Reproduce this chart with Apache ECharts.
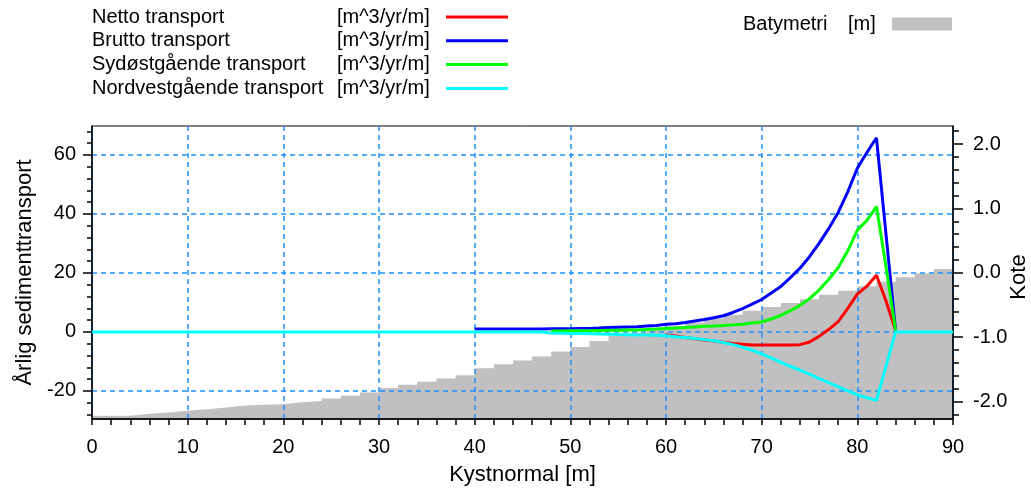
<!DOCTYPE html>
<html><head><meta charset="utf-8">
<script src="https://cdn.jsdelivr.net/npm/echarts@6/dist/echarts.min.js"></script>
<style>html,body{margin:0;padding:0;background:#fff}#c{width:1031px;height:491px}</style>
</head><body><div id="c"></div>
<script>
// x positions (Kystnormal [m]) for transport series
const kystnormal = [0, 40,41,42,43,44,45,46,47,48,49, 50,51,52,53,54,55,56,57,58,59,
  60,61,62,63,64,65,66,67,68,69, 70,71,72,73,74,75,76,77,78,79, 80,81,82,83,84,85,86,87,88,89,90];
const netto = [null, null,null,null,null,null,null,null,null,null,null, null,null,null,null,null,null,null,null,null,null,
  -1.0,-1.4,-1.9,-2.3,-2.7,-3.1,-3.5,-3.9,-4.2,-4.4,
  -4.4,-4.4,-4.4,-4.4,-4.3,-3.4,-1.5,0.8,3.5,8.0,
  12.8,15.5,19.2,10.5,0.5, null,null,null,null,null,null];
const brutto = [null, 1.0,1.0,1.0,1.0,1.0,1.0,1.0,1.0, 1.1,1.1,1.1,1.2,1.2,1.3, 1.5,1.6,1.7,1.8,2.0,2.2,
  2.6,2.8,3.2,3.7,4.2,4.8,5.5,6.6,7.9,9.4,
  11.0,13.2,15.4,18.4,21.6,25.5,30.0,35.0,40.5,47.5,
  55.5,60.8,65.8,33.0,0.5, null,null,null,null,null,null];
const sydost = [null, null,null,null,null,null,null,null,null,
  0.3,0.35,0.4,0.4,0.45,0.5,0.55,0.6,0.65,0.7,0.85,1.0,
  1.2,1.3,1.5,1.7,1.9,2.0,2.2,2.4,2.6,3.0,
  3.4,4.4,5.6,7.2,9.0,11.3,14.2,17.8,21.8,27.5,
  34.5,37.8,42.5,22.0,0.5, null,null,null,null,null,null];
const nordvest = [0, 0,0,0,0,0,0,0,0,
  -0.4,-0.45,-0.5,-0.55,-0.6,-0.7,-0.8,-0.9,-0.95,-1.0,-1.05,-1.1,
  -1.3,-1.6,-1.9,-2.2,-2.6,-3.0,-3.6,-4.3,-5.2,-6.2,
  -7.4,-8.8,-10.3,-11.7,-12.9,-14.3,-15.8,-17.2,-18.5,-20.0,
  -21.3,-22.3,-23.2,-11.6,0, 0,0,0,0,0,0];
// Bathymetry (Kote [m]) in 2 m steps
const batyX = [0,2,4,6,8,10,12,14,16,18,20,22,24,26,28,30,32,34,36,38,40,42,44,46,48,50,52,54,56,58,60,62,64,66,68,70,72,74,76,78,80,82,84,86,88,90];
const baty = [-2.22,-2.22,-2.19,-2.17,-2.14,-2.12,-2.09,-2.06,-2.05,-2.04,-2.01,-1.99,-1.95,-1.91,-1.86,-1.79,-1.74,-1.69,-1.64,-1.59,
  -1.48,-1.42,-1.36,-1.30,-1.22,-1.15,-1.06,-0.98,-0.93,-0.88,-0.83,-0.77,-0.71,-0.65,-0.59,-0.53,-0.47,-0.41,-0.34,-0.28,
  -0.21,-0.14,-0.07,-0.01,0.06,0.12];
// tick values
const leftMajor = [-20, 0, 20, 40, 60];
const leftMinor = [-28,-24,-16,-12,-8,-4,4,8,12,16,24,28,32,36,44,48,52,56,64,68];
const rightMajor = [-2, -1, 0, 1, 2];
const rightMinor = [-2.2,-1.8,-1.6,-1.4,-1.2,-0.8,-0.6,-0.4,-0.2,0.2,0.4,0.6,0.8,1.2,1.4,1.6,1.8,2.2];
const seriesNames = ['Netto transport','Brutto transport','Sydøstgående transport','Nordvestgående transport'];
const unit = '[m^3/yr/m]';

const FONT = 'Liberation Sans';
const gridDash = {color:'#1e90ff', width:1.5, type:[5,4]};
const pairs = arr => kystnormal.map((x,i)=>[x, arr[i]]);
const lineSeries = (name, arr, color) => ({
  name, type:'line', data:pairs(arr), symbol:'none', yAxisIndex:0,
  lineStyle:{color, width:3}, itemStyle:{color}, connectNulls:false
});
const rt = (w) => ({width:w, fontSize:20, fontFamily:FONT, color:'#000', align:'left'});

const chart = echarts.init(document.getElementById('c'));
chart.setOption({
  animation:false,
  textStyle:{fontFamily:FONT},
  grid:{left:92,right:78,top:126,bottom:72,show:true,borderColor:'#000',borderWidth:1,backgroundColor:'transparent',
        containLabel:false, outerBoundsMode:'none'},
  graphic:[{type:'text', x:1019, y:277, rotation:Math.PI/2,
    style:{text:'Kote', fontSize:22, fontFamily:FONT, fill:'#000', align:'center', verticalAlign:'middle'}}],
  legend:[{
    orient:'vertical', left:92, top:7, padding:0, align:'right', itemGap:3.8, itemWidth:62, itemHeight:3, icon:'rect',
    selectedMode:false, data:seriesNames,
    formatter: n => '{n|'+n+'}{u|'+unit+'}',
    textStyle:{fontFamily:FONT,fontSize:20,color:'#000',rich:{n:rt(245),u:rt(104)}}
  },{
    orient:'horizontal', left:743, top:14, padding:0, align:'right', itemWidth:60, itemHeight:13,
    selectedMode:false, data:[{name:'Batymetri', icon:'rect', itemStyle:{color:'#c0c0c0'}}],
    formatter: n => '{n|'+n+'}{u|[m]}',
    textStyle:{fontFamily:FONT,fontSize:20,color:'#000',rich:{n:rt(105),u:rt(39)}}
  }],
  xAxis:{type:'value', min:0, max:90, interval:10,
    name:'Kystnormal [m]', nameLocation:'middle', nameGap:45,
    nameTextStyle:{fontSize:22,color:'#000',fontFamily:FONT},
    axisLine:{onZero:false,lineStyle:{color:'#000',width:1.5}},
    axisTick:{show:true,length:6,lineStyle:{color:'#000',width:1.5}},
    minorTick:{show:true,splitNumber:5,length:6,lineStyle:{color:'#000',width:1.5}},
    axisLabel:{fontSize:20,color:'#000',margin:18,fontFamily:FONT},
    splitLine:{show:true,lineStyle:gridDash}},
  yAxis:[{
    type:'value', position:'left', min:-29.5, max:69.8,
    name:'Årlig sedimenttransport', nameLocation:'middle', nameRotate:90, nameGap:49,
    nameTextStyle:{fontSize:22,color:'#000',fontFamily:FONT},
    axisLine:{show:true,onZero:false,lineStyle:{color:'#000',width:1.5}},
    axisTick:{show:true,length:9,customValues:leftMajor,lineStyle:{color:'#000',width:1.5}},
    axisLabel:{customValues:leftMajor,fontSize:20,color:'#000',margin:16,fontFamily:FONT},
    splitLine:{show:true,lineStyle:gridDash}
  },{
    type:'value', position:'right', min:-2.27, max:2.28,
    axisLine:{show:true,onZero:false,lineStyle:{color:'#000',width:1.5}},
    axisTick:{show:true,length:10,customValues:rightMajor,lineStyle:{color:'#000',width:1.5}},
    axisLabel:{customValues:rightMajor,fontSize:20,color:'#000',margin:20,fontFamily:FONT,formatter:v=>v.toFixed(1)},
    splitLine:{show:false}
  },{
    type:'value', position:'left', min:-29.5, max:69.8,
    axisLine:{show:false,onZero:false}, axisLabel:{show:false}, splitLine:{show:false},
    axisTick:{show:true,length:5,customValues:leftMinor,lineStyle:{color:'#000',width:1.5}}
  },{
    type:'value', position:'right', min:-2.27, max:2.28,
    axisLine:{show:false,onZero:false}, axisLabel:{show:false}, splitLine:{show:false},
    axisTick:{show:true,length:6,customValues:rightMinor,lineStyle:{color:'#000',width:1.5}}
  }],
  series:[
    {name:'Batymetri', type:'line', yAxisIndex:1, step:'end', symbol:'none', z:-1,
     data:batyX.map((x,i)=>[x, baty[i]]),
     lineStyle:{width:0,color:'#c0c0c0'}, itemStyle:{color:'#c0c0c0'},
     areaStyle:{color:'#c0c0c0',opacity:1,origin:'start'}},
    lineSeries(seriesNames[0], netto, '#ff0000'),
    lineSeries(seriesNames[1], brutto, '#0000ff'),
    lineSeries(seriesNames[2], sydost, '#00ff00'),
    lineSeries(seriesNames[3], nordvest, '#00ffff')
  ]
});
</script></body></html>
